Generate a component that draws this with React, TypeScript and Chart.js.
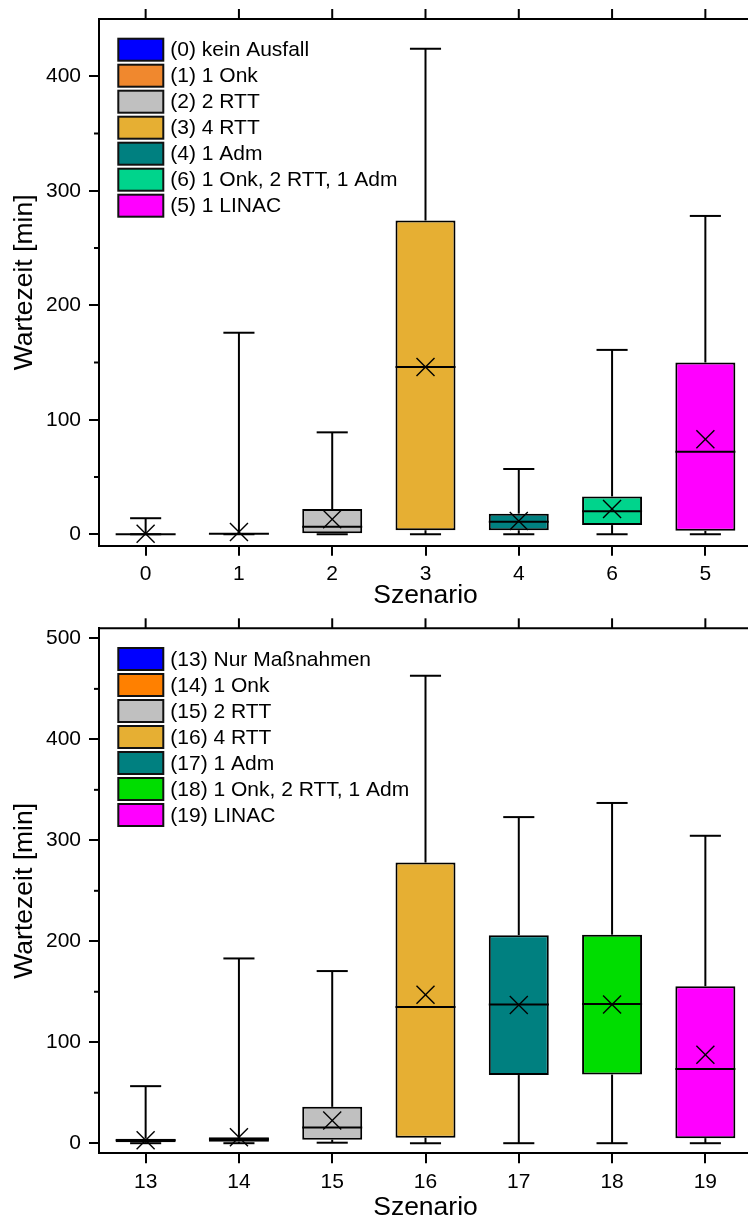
import React, { useEffect, useRef } from 'react';
import { Chart, registerables } from 'chart.js';

Chart.register(...registerables);

const FONT = "'Liberation Sans', Arial, Helvetica, sans-serif";

// ---------- Top chart data ----------
const labelsTop = ['0', '1', '2', '3', '4', '6', '5'];
const namesTop = [
  '(0) kein Ausfall',
  '(1) 1 Onk',
  '(2) 2 RTT',
  '(3) 4 RTT',
  '(4) 1 Adm',
  '(6) 1 Onk, 2 RTT, 1 Adm',
  '(5) 1 LINAC',
];
const colorsTop = ['#0000FF', '#F0882E', '#C0C0C0', '#E6AF33', '#008080', '#00D48C', '#FF00FF'];
const minTop = [0, 0, 0, 0, 0, 0, 0];
const q1Top = [0, 0, 0, 3.5, 3.5, 8, 3];
const medianTop = [0, 0.5, 6.5, 146, 11, 20, 72];
const q3Top = [0, 1, 22, 274, 18, 33, 150];
const maxTop = [14, 176, 89, 424, 57, 161, 278];
const meanTop = [0.5, 2, 13, 146, 11.5, 22, 83];
const yTicksTop = [0, 100, 200, 300, 400];
const yMinorTop = [50, 150, 250, 350];

// ---------- Bottom chart data ----------
const labelsBottom = ['13', '14', '15', '16', '17', '18', '19'];
const namesBottom = [
  '(13) Nur Maßnahmen',
  '(14) 1 Onk',
  '(15) 2 RTT',
  '(16) 4 RTT',
  '(17) 1 Adm',
  '(18) 1 Onk, 2 RTT, 1 Adm',
  '(19) LINAC',
];
const colorsBottom = ['#0000FF', '#FF8000', '#C0C0C0', '#E6AF33', '#008080', '#00DD00', '#FF00FF'];
const minBottom = [0, 0, 0.5, 0, 0, 0, 0];
const q1Bottom = [1, 1.5, 3.5, 5.5, 67.5, 68, 5];
const medianBottom = [3, 4, 15.5, 135, 137.5, 138, 73.5];
const q3Bottom = [4.5, 6, 36, 278, 206, 206.5, 155.5];
const maxBottom = [56.5, 183, 170.5, 463, 323, 337, 304.5];
const meanBottom = [3, 6, 22.5, 147, 137, 137.5, 87.5];
const yTicksBottom = [0, 100, 200, 300, 400, 500];
const yMinorBottom = [50, 150, 250, 350, 450];

type Spec = {
  labels: string[];
  names: string[];
  colors: string[];
  min: number[];
  q1: number[];
  median: number[];
  q3: number[];
  max: number[];
  mean: number[];
  yMin: number;
  yMax: number;
  yTicks: number[];
  yMinor: number[];
  padTop: number;
  xAxisHeight: number;
  width: number;
  height: number;
};

function makePlugin(spec: Spec) {
  const line = (ctx: CanvasRenderingContext2D, x1: number, y1: number, x2: number, y2: number) => {
    ctx.beginPath();
    ctx.moveTo(x1, y1);
    ctx.lineTo(x2, y2);
    ctx.stroke();
  };
  return {
    id: 'boxExtras',
    beforeDatasetsDraw(chart: any) {
      const { ctx } = chart;
      const xs = chart.scales.x;
      const ys = chart.scales.y;
      const step = xs.getPixelForValue(1) - xs.getPixelForValue(0);
      const capHalf = step / 6;
      ctx.save();
      ctx.strokeStyle = '#000';
      ctx.lineWidth = 2;
      spec.labels.forEach((_, i) => {
        const cx = xs.getPixelForValue(i);
        const yq3 = ys.getPixelForValue(spec.q3[i]);
        const yMax = ys.getPixelForValue(spec.max[i]);
        const yq1 = ys.getPixelForValue(spec.q1[i]);
        const yMin = ys.getPixelForValue(spec.min[i]);
        line(ctx, cx, yq3, cx, yMax);
        line(ctx, cx - capHalf, yMax, cx + capHalf, yMax);
        line(ctx, cx, yq1, cx, yMin);
        line(ctx, cx - capHalf, yMin, cx + capHalf, yMin);
      });
      ctx.restore();
    },
    afterDatasetsDraw(chart: any) {
      const { ctx } = chart;
      const xs = chart.scales.x;
      const ys = chart.scales.y;
      const meta = chart.getDatasetMeta(0);
      ctx.save();
      ctx.strokeStyle = '#000';
      spec.labels.forEach((_, i) => {
        const cx = xs.getPixelForValue(i);
        const half = meta.data[i].width / 2;
        const yMed = ys.getPixelForValue(spec.median[i]);
        ctx.lineWidth = 2;
        line(ctx, cx - half, yMed, cx + half, yMed);
        const yMean = ys.getPixelForValue(spec.mean[i]);
        const s = 9;
        ctx.lineWidth = 1.4;
        line(ctx, cx - s, yMean - s, cx + s, yMean + s);
        line(ctx, cx - s, yMean + s, cx + s, yMean - s);
      });
      ctx.restore();
    },
    afterDraw(chart: any) {
      const { ctx, chartArea } = chart;
      const xs = chart.scales.x;
      const ys = chart.scales.y;
      ctx.save();
      ctx.strokeStyle = '#000';
      ctx.lineWidth = 2;
      // frame: top and right
      line(ctx, chartArea.left - 1, chartArea.top, chartArea.right + 1, chartArea.top);
      line(ctx, chartArea.right, chartArea.top, chartArea.right, chartArea.bottom);
      // top ticks
      spec.labels.forEach((_, i) => {
        const cx = xs.getPixelForValue(i);
        line(ctx, cx, chartArea.top, cx, chartArea.top - 10);
      });
      // minor y ticks
      spec.yMinor.forEach((v) => {
        const py = ys.getPixelForValue(v);
        line(ctx, chartArea.left, py, chartArea.left - 5, py);
      });
      // legend
      const lx = chartArea.left + 18.3;
      const ly0 = chartArea.top + 18.7;
      const rowH = 26;
      const bw = 47;
      const bh = 24;
      ctx.font = `21px ${FONT}`;
      ctx.textBaseline = 'middle';
      ctx.textAlign = 'left';
      spec.names.forEach((name, i) => {
        const y = ly0 + i * rowH;
        ctx.fillStyle = spec.colors[i];
        ctx.fillRect(lx + 1, y + 1, bw - 2, bh - 2);
        ctx.lineWidth = 2;
        ctx.strokeStyle = '#111';
        ctx.strokeRect(lx + 1, y + 1, bw - 2, bh - 2);
        ctx.fillStyle = '#000';
        ctx.fillText(name, lx + bw + 6, y + bh / 2 + 1);
      });
      ctx.restore();
    },
  };
}

function zeroPadding(s: any) {
  s.paddingTop = 0;
  s.paddingBottom = 0;
  s.paddingLeft = 0;
  s.paddingRight = 0;
}

function buildChart(canvas: HTMLCanvasElement, spec: Spec) {
  const axisGrid = {
    display: true,
    drawOnChartArea: false,
    drawTicks: true,
    tickLength: 10,
    color: '#000',
    lineWidth: 2,
    offset: false,
  };
  return new Chart(canvas, {
    type: 'bar',
    data: {
      labels: spec.labels,
      datasets: [
        {
          data: spec.q1.map((v, i) => [v, spec.q3[i]]) as any,
          backgroundColor: spec.colors,
          borderColor: '#000',
          borderWidth: 2,
          borderSkipped: false,
          barPercentage: 0.643,
          categoryPercentage: 1,
        },
      ],
    },
    options: {
      responsive: false,
      animation: false,
      devicePixelRatio: 1,
      layout: { padding: { top: spec.padTop, left: 0, right: 8, bottom: 0 } },
      plugins: {
        legend: { display: false },
        tooltip: { enabled: false },
      },
      scales: {
        x: {
          grid: axisGrid as any,
          border: { display: true, color: '#000', width: 2 },
          ticks: { color: '#000', font: { family: FONT, size: 21 }, padding: 6, maxRotation: 0 },
          title: {
            display: true,
            text: 'Szenario',
            color: '#000',
            font: { family: FONT, size: 26.5 },
            padding: 0,
          },
          afterFit: (s: any) => {
            s.height = spec.xAxisHeight;
            zeroPadding(s);
          },
        },
        y: {
          min: spec.yMin,
          max: spec.yMax,
          afterBuildTicks: (s: any) => {
            s.ticks = spec.yTicks.map((v) => ({ value: v }));
          },
          grid: axisGrid as any,
          border: { display: true, color: '#000', width: 2 },
          ticks: { color: '#000', font: { family: FONT, size: 21 }, padding: 8 },
          title: {
            display: true,
            text: 'Wartezeit [min]',
            color: '#000',
            font: { family: FONT, size: 26.5 },
            padding: { top: 9, bottom: 0 },
          },
          afterFit: (s: any) => {
            s.width = 99;
            zeroPadding(s);
          },
        },
      },
    },
    plugins: [makePlugin(spec) as any],
  });
}

const specTop: Spec = {
  labels: labelsTop,
  names: namesTop,
  colors: colorsTop,
  min: minTop,
  q1: q1Top,
  median: medianTop,
  q3: q3Top,
  max: maxTop,
  mean: meanTop,
  yMin: -10,
  yMax: 450,
  yTicks: yTicksTop,
  yMinor: yMinorTop,
  padTop: 19,
  xAxisHeight: 66.3,
  width: 760,
  height: 612,
};

const specBottom: Spec = {
  labels: labelsBottom,
  names: namesBottom,
  colors: colorsBottom,
  min: minBottom,
  q1: q1Bottom,
  median: medianBottom,
  q3: q3Bottom,
  max: maxBottom,
  mean: meanBottom,
  yMin: -10,
  yMax: 510,
  yTicks: yTicksBottom,
  yMinor: yMinorBottom,
  padTop: 16.3,
  xAxisHeight: 70.7,
  width: 760,
  height: 612,
};

function BoxChart({ spec, top }: { spec: Spec; top: number }) {
  const ref = useRef<HTMLCanvasElement | null>(null);
  useEffect(() => {
    if (!ref.current) return;
    const chart = buildChart(ref.current, spec);
    return () => chart.destroy();
  }, [spec]);
  return (
    <div style={{ position: 'absolute', left: 0, top, width: spec.width, height: spec.height }}>
      <canvas ref={ref} width={spec.width} height={spec.height} style={{ display: 'block' }} />
    </div>
  );
}

export default function App() {
  return (
    <div
      style={{
        position: 'fixed',
        left: 0,
        top: 0,
        width: 748,
        height: 1218,
        overflow: 'hidden',
        background: '#fff',
      }}
    >
      <BoxChart spec={specTop} top={0} />
      <BoxChart spec={specBottom} top={612} />
    </div>
  );
}
